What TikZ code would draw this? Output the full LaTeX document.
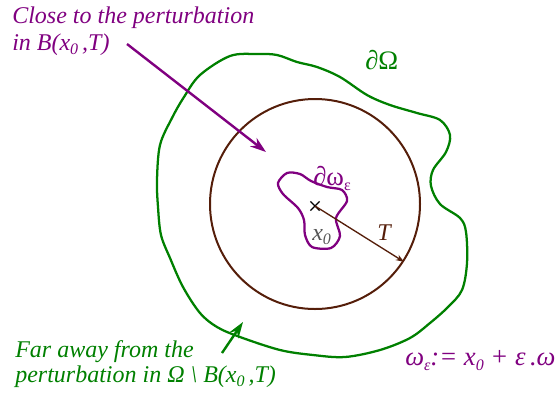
\documentclass[tikz,border=0pt]{standalone}
\usepackage{fontspec}
\setmainfont{Liberation Serif}
\usetikzlibrary{arrows.meta,shapes.misc}

\definecolor{perturbpurple}{RGB}{128,0,128}
\definecolor{domaingreen}{RGB}{0,128,0}
\definecolor{ballbrown}{RGB}{85,30,10}
\definecolor{pointgray}{RGB}{85,85,85}

\newcommand{\lowsub}[1]{\raisebox{-0.45ex}{\fontsize{12}{12}\selectfont #1}}

\begin{document}
\begin{tikzpicture}[
        x=0.75pt, y=-0.75pt,
        domainline/.style={draw=domaingreen, line width=1.7pt},
        ballline/.style={draw=ballbrown, line width=1.5pt},
        blobline/.style={draw=perturbpurple, line width=1.7pt},
        pointer/.style={-{Stealth[length=12pt, width=8pt]}, line width=1.8pt},
        textlabel/.style={font=\fontsize{18}{20.25}\selectfont\itshape, inner sep=0pt, anchor=base west, align=left},
        symlabel/.style={font=\fontsize{20}{22}\selectfont, inner sep=0pt, anchor=base west}
    ]
    \useasboundingbox (0,0) rectangle (556,394);

    % ==========================================
    % DOMAIN: boundary of Omega
    % ==========================================
    \draw[domainline] plot[smooth cycle, tension=0.55] coordinates {
        (200,75) (230,56) (257,54) (277,55) (297,62) (317,67) (340,77)
        (367,95) (390,105) (417,113) (440,120) (450,135) (446,152) (433,170)
        (431,186) (440,204) (460,218) (466,232) (467,263) (462,290) (448,307)
        (430,323) (410,338) (380,350) (345,357) (313,355) (280,350) (240,337)
        (217,327) (200,313) (183,287) (170,258) (161,235) (158,207) (157,180)
        (160,145) (172,118) (184,97)};
    \node[symlabel, text=domaingreen] (dOmega) at (365,69) {∂Ω};

    % ==========================================
    % BALL B(x0,T)
    % ==========================================
    \node[ballline, circle, minimum size=157.5pt, inner sep=0pt] (ball) at (315,204) {};

    % perturbation omega_eps
    \draw[blobline] plot[smooth cycle] coordinates {
        (278,183) (287,173) (300,174) (311,181) (327,187) (342,190)
        (347,201) (336,218) (340,236) (331,248) (312,247) (305,235)
        (304,220) (298,208) (283,194)};
    \node[cross out, draw=black, line width=0.9pt, minimum size=6pt, inner sep=0pt] (x0) at (315,206) {};
    \node[textlabel, text=pointgray] (x0label) at (312,240) {x\lowsub{0}};
    \node[symlabel, text=perturbpurple] (dOmegaEps) at (313,185) {∂ω\lowsub{ε}};

    % radius T
    \draw[ballbrown, -{Stealth[length=6pt, width=4.5pt]}, line width=1pt] (x0.center) -- (ball.-33);
    \node[textlabel, text=ballbrown] (radius) at (377,240) {T};

    % ==========================================
    % CALLOUTS
    % ==========================================
    % multi-line labels sit on the baseline of their last line
    \node[textlabel, text=perturbpurple] (closetext) at (12,50) {Close to the perturbation\\in B(x\lowsub{0}\,,T)};
    \coordinate (closetail) at (127,44);
    \coordinate (closetip) at (266,152);
    \draw[pointer, perturbpurple] (closetail) -- (closetip);

    \node[textlabel, text=domaingreen, font=\fontsize{18}{18.75}\selectfont\itshape] (fartext) at (15,382) {Far away from the\\perturbation in Ω \textbackslash{} B(x\lowsub{0}\,,T)};
    \coordinate (fartail) at (222,353);
    \coordinate (fartip) at (243,322);
    \draw[pointer, domaingreen] (fartail) -- (fartip);

    \node[textlabel, text=perturbpurple, font=\fontsize{20}{22}\selectfont\itshape] (scaling) at (405,365) {ω\lowsub{ε}:= x\lowsub{0} + ε\,.ω};

\end{tikzpicture}
\end{document}
